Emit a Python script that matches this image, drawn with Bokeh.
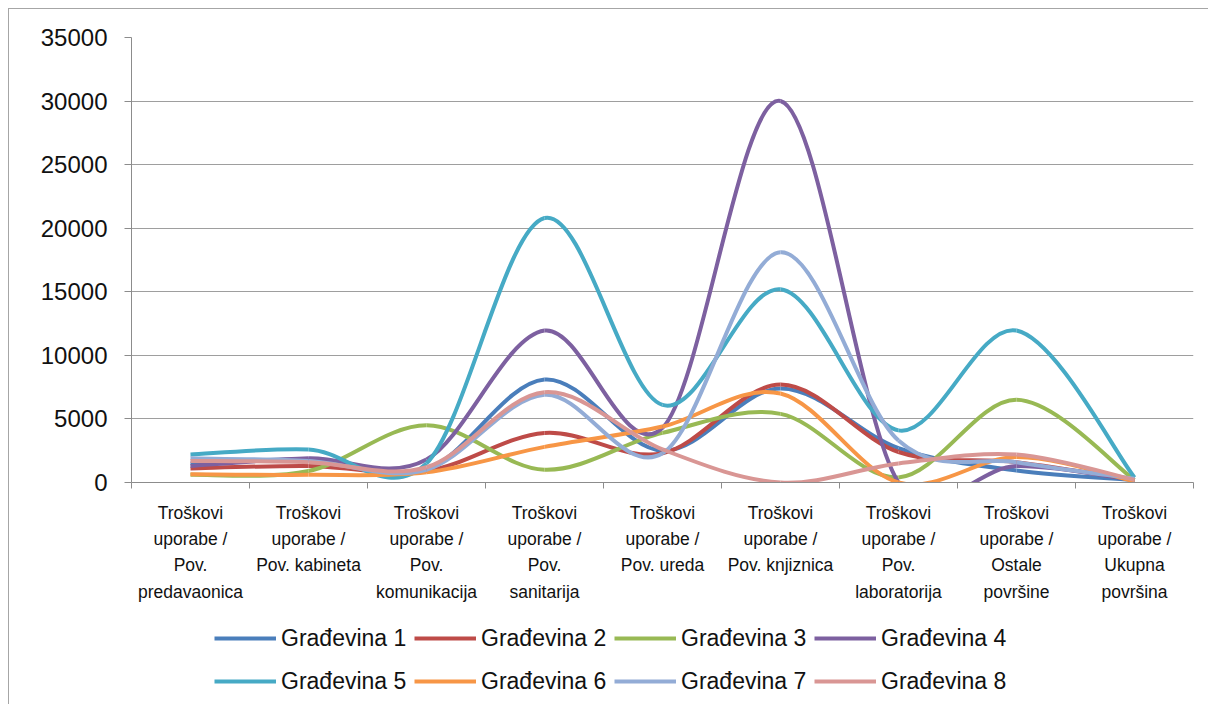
import math
from bokeh.plotting import figure
from bokeh.layouts import column
from bokeh.models import (ColumnDataSource, FixedTicker, NumeralTickFormatter,
                          Legend, LegendItem, Range1d)
from bokeh.embed import file_html
from bokeh.resources import INLINE

categories = [
    "Troškovi\nuporabe /\nPov.\npredavaonica",
    "Troškovi\nuporabe /\nPov. kabineta",
    "Troškovi\nuporabe /\nPov.\nkomunikacija",
    "Troškovi\nuporabe /\nPov.\nsanitarija",
    "Troškovi\nuporabe /\nPov. ureda",
    "Troškovi\nuporabe /\nPov. knjiznica",
    "Troškovi\nuporabe /\nPov.\nlaboratorija",
    "Troškovi\nuporabe /\nOstale\npovršine",
    "Troškovi\nuporabe /\nUkupna\npovršina",
]

series_names = ["Građevina 1", "Građevina 2", "Građevina 3", "Građevina 4",
                "Građevina 5", "Građevina 6", "Građevina 7", "Građevina 8"]

gradevina_1 = [1500, 1800, 1000, 8100, 2500, 7400, 2700, 950, 200]
gradevina_2 = [1100, 1300, 900, 3900, 2300, 7700, 2400, 1600, 200]
gradevina_3 = [600, 900, 4500, 1000, 3900, 5400, 400, 6500, 200]
gradevina_4 = [1300, 1900, 1800, 11950, 4300, 30000, 0, 1300, 200]
gradevina_5 = [2200, 2600, 1500, 20800, 6100, 15200, 4100, 11950, 400]
gradevina_6 = [650, 600, 800, 2800, 4400, 7000, 0, 2000, 100]
gradevina_7 = [1900, 1700, 1000, 6900, 2300, 18100, 3300, 1600, 300]
gradevina_8 = [1700, 1600, 1200, 7100, 2600, 0, 1500, 2200, 200]

y_ticks = [0, 5000, 10000, 15000, 20000, 25000, 30000, 35000]

all_series = [gradevina_1, gradevina_2, gradevina_3, gradevina_4,
              gradevina_5, gradevina_6, gradevina_7, gradevina_8]
colors = ["#4A7EBB", "#BE4B48", "#98B954", "#7D60A0",
          "#46AAC5", "#F79646", "#93ACD6", "#D99694"]

FRAME_W, FRAME_H = 1062, 445
Y_MAX = 35000
n = len(categories)
px_x = FRAME_W / n          # pixels per category unit
px_y = FRAME_H / Y_MAX      # pixels per value unit


def excel_smooth_segments(vals):
    """Excel-style smoothed line: cubic Bezier control points per segment."""
    xs = [i + 0.5 for i in range(len(vals))]
    pts = list(zip(xs, vals))
    out = dict(x0=[], y0=[], x1=[], y1=[], cx0=[], cy0=[], cx1=[], cy1=[])

    def dist(a, b):
        return math.hypot((a[0] - b[0]) * px_x, (a[1] - b[1]) * px_y)

    for i in range(len(pts) - 1):
        p0 = pts[i - 1] if i > 0 else pts[i]
        p1 = pts[i]
        p2 = pts[i + 1]
        p3 = pts[i + 2] if i + 2 < len(pts) else pts[i + 1]
        d02 = dist(p0, p2)
        d12 = dist(p1, p2)
        d13 = dist(p1, p3)
        f1 = 1 / 6 if (d02 / 6 < d12 / 2 or d02 == 0) else d12 / (2 * d02)
        f2 = 1 / 6 if (d13 / 6 < d12 / 2 or d13 == 0) else d12 / (2 * d13)
        out["x0"].append(p1[0]); out["y0"].append(p1[1])
        out["x1"].append(p2[0]); out["y1"].append(p2[1])
        out["cx0"].append(p1[0] + f1 * (p2[0] - p0[0]))
        out["cy0"].append(p1[1] + f1 * (p2[1] - p0[1]))
        out["cx1"].append(p2[0] - f2 * (p3[0] - p1[0]))
        out["cy1"].append(p2[1] - f2 * (p3[1] - p1[1]))
    return out


FONT = "Liberation Sans"

p = figure(width=1200, height=603, output_backend="svg", toolbar_location=None,
           x_range=Range1d(0, n), y_range=Range1d(0, Y_MAX),
           min_border_left=122, min_border_right=16,
           min_border_top=28, min_border_bottom=130)
p.outline_line_color = None
p.background_fill_color = "white"
p.border_fill_color = "white"

# Y axis
p.yaxis.ticker = FixedTicker(ticks=y_ticks)
p.yaxis.formatter = NumeralTickFormatter(format="0")
p.yaxis.major_label_text_font = FONT
p.yaxis.major_label_text_font_size = "24px"
p.yaxis.major_label_text_color = "#111111"
p.yaxis.major_tick_out = 7
p.yaxis.major_tick_in = 0
p.yaxis.minor_tick_out = 0
p.yaxis.minor_tick_in = 0
p.yaxis.major_label_standoff = 17
p.yaxis.axis_line_color = "#8c8c8c"
p.yaxis.major_tick_line_color = "#8c8c8c"

# X axis
centers = [i + 0.5 for i in range(n)]
p.xaxis.ticker = FixedTicker(ticks=centers, minor_ticks=list(range(n + 1)))
p.xaxis.major_label_overrides = {c: lab for c, lab in zip(centers, categories)}
p.xaxis.major_label_text_font = FONT
p.xaxis.major_label_text_font_size = "17.5px"
p.xaxis.major_label_text_color = "#111111"
p.xaxis.major_label_text_line_height = 1.32
p.xaxis.major_label_text_align = "center"
p.xaxis.major_tick_out = 0
p.xaxis.major_tick_in = 0
p.xaxis.minor_tick_out = 6
p.xaxis.minor_tick_in = 0
p.xaxis.minor_tick_line_color = "#8c8c8c"
p.xaxis.major_label_standoff = 14
p.xaxis.axis_line_color = "#8c8c8c"

p.xgrid.grid_line_color = None
p.ygrid.grid_line_color = "#9e9e9e"
p.ygrid.grid_line_width = 1

for name, vals, col in zip(series_names, all_series, colors):
    src = ColumnDataSource(excel_smooth_segments(vals))
    p.bezier(x0="x0", y0="y0", x1="x1", y1="y1", cx0="cx0", cy0="cy0",
             cx1="cx1", cy1="cy1", source=src, line_color=col, line_width=4)

# Legend strip below the chart (its frame is aligned with the chart's frame)
lf = figure(width=1200, height=92, output_backend="svg", toolbar_location=None,
            x_range=Range1d(0, 1), y_range=Range1d(0, 1),
            min_border_left=0, min_border_right=0,
            min_border_top=0, min_border_bottom=0)
lf.axis.visible = False
lf.grid.grid_line_color = None
lf.outline_line_color = None
lf.border_fill_color = "white"

items = []
for name, col in zip(series_names, colors):
    proxy = lf.line(x=[math.nan], y=[math.nan], line_color=col, line_width=4)
    items.append(LegendItem(label=name, renderers=[proxy]))

leg = Legend(items=items, orientation="horizontal", ncols=4,
             location=(83, 4),
             label_text_font=FONT, label_text_font_size="23px",
             label_text_color="#111111",
             glyph_width=62, glyph_height=38, label_height=38, label_width=128,
             label_standoff=5, spacing=5, padding=0, margin=0,
             border_line_color=None, background_fill_alpha=0)
lf.add_layout(leg, "center")

layout = column(p, lf, spacing=0)
layout.margin = (8, 0, 0, 8)
layout.styles = {"border-left": "1px solid #a6a6a6", "border-top": "1px solid #a6a6a6"}

open("out.html", "w").write(file_html(layout, INLINE))
